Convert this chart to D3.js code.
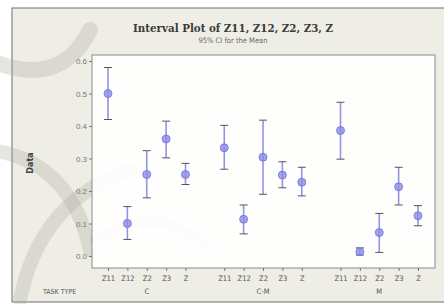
<!DOCTYPE html>
<html>
<head>
<meta charset="utf-8">
<script src="https://cdn.jsdelivr.net/npm/d3@7"></script>
<style>
  html, body { margin: 0; padding: 0; background: #fff; }
  svg { display: block; }
</style>
</head>
<body>
<svg id="chart" width="444" height="304"></svg>
<script>
// Interval plot – 95% CI for the mean, by task type

const GROUPS = ["C", "C-M", "M"];
const VARS = ["Z11", "Z12", "Z2", "Z3", "Z"];
const Y_TICKS = [0.0, 0.1, 0.2, 0.3, 0.4, 0.5, 0.6];

// one row per group, in VARS order
const MEANS = [
  [0.500, 0.100, 0.251, 0.360, 0.251],
  [0.333, 0.113, 0.304, 0.249, 0.227],
  [0.386, 0.013, 0.072, 0.213, 0.124]
];
const LOWER = [
  [0.420, 0.051, 0.179, 0.302, 0.220],
  [0.267, 0.068, 0.190, 0.210, 0.185],
  [0.298, 0.003, 0.011, 0.157, 0.093]
];
const UPPER = [
  [0.580, 0.152, 0.324, 0.415, 0.285],
  [0.402, 0.157, 0.418, 0.290, 0.273],
  [0.473, 0.025, 0.131, 0.273, 0.155]
];

const svg = d3.select("#chart");

// ---------------------------
// background + faint watermark
// ---------------------------
svg.append("rect").attr("x", 12).attr("y", 8).attr("width", 440).attr("height", 294)
  .attr("fill", "#efeee6").attr("stroke", "#6e6e6e").attr("stroke-width", 1);

const wm = svg.append("g").attr("fill", "none").attr("stroke", "#a8a8a0")
  .attr("stroke-opacity", 0.3).attr("stroke-linecap", "round");
wm.append("path").attr("d", "M-10,60 Q60,90 90,30").attr("stroke-width", 16);
wm.append("path").attr("d", "M20,300 Q40,200 130,170").attr("stroke-width", 14);
wm.append("path").attr("d", "M-10,150 Q70,160 90,250").attr("stroke-width", 14);
wm.append("path").attr("d", "M95,240 Q160,200 210,250").attr("stroke-width", 10);

const plot = { left: 92, top: 55, right: 435, bottom: 268 };

svg.append("rect")
  .attr("x", plot.left).attr("y", plot.top)
  .attr("width", plot.right - plot.left).attr("height", plot.bottom - plot.top)
  .attr("fill", "#fff").attr("fill-opacity", 0.92)
  .attr("stroke", "#8a8a8a").attr("stroke-width", 1);

// ---------------------------
// scales
// ---------------------------
const y = d3.scaleLinear().domain([0, 0.6]).range([256, 61]);

// 15 positions plus one empty slot between groups
const slots = [];
GROUPS.forEach((g, gi) => {
  if (gi > 0) slots.push("gap" + gi);
  VARS.forEach(v => slots.push(g + "|" + v));
});
const x = d3.scalePoint().domain(slots).range([108, 418]);

// ---------------------------
// axes
// ---------------------------
const yAxis = svg.append("g")
  .attr("transform", `translate(${plot.left},0)`)
  .call(d3.axisLeft(y).tickValues(Y_TICKS).tickFormat(d3.format(".1f")).tickSize(3).tickPadding(2));
yAxis.select(".domain").remove();
yAxis.selectAll("line").attr("stroke", "#777");
yAxis.selectAll("text").attr("fill", "#777").style("font", "8px 'Liberation Sans', Arial, sans-serif");

const xKeys = slots.filter(s => !s.startsWith("gap"));
const xAxis = svg.append("g")
  .attr("transform", `translate(0,${plot.bottom})`)
  .call(d3.axisBottom(x).tickValues(xKeys).tickFormat(d => d.split("|")[1]).tickSize(3).tickPadding(5));
xAxis.select(".domain").remove();
xAxis.selectAll("line").attr("stroke", "#777");
xAxis.selectAll("text").attr("fill", "#555").style("font", "7.5px 'DejaVu Sans Condensed', 'DejaVu Sans', sans-serif");

// group labels
svg.append("g").selectAll("text")
  .data(GROUPS)
  .join("text")
  .attr("x", g => x(g + "|Z2"))
  .attr("y", 294)
  .attr("text-anchor", "middle")
  .attr("fill", "#555")
  .style("font", "7.5px 'DejaVu Sans Condensed', 'DejaVu Sans', sans-serif")
  .text(g => g);

svg.append("text")
  .attr("x", 43).attr("y", 294)
  .attr("fill", "#555")
  .style("font", "7px 'DejaVu Sans Condensed', 'DejaVu Sans', sans-serif")
  .text("TASK TYPE");

svg.append("text")
  .attr("transform", "translate(33,163) rotate(-90)")
  .attr("text-anchor", "middle")
  .attr("fill", "#444")
  .style("font", "bold 8px 'DejaVu Sans', sans-serif")
  .text("Data");

// titles
svg.append("text")
  .attr("x", 233).attr("y", 32)
  .attr("text-anchor", "middle")
  .attr("fill", "#3a3a3a")
  .attr("textLength", 200)
  .attr("lengthAdjust", "spacingAndGlyphs")
  .style("font", "bold 11px 'DejaVu Serif', serif")
  .text("Interval Plot of Z11, Z12, Z2, Z3, Z");

svg.append("text")
  .attr("x", 233).attr("y", 43)
  .attr("text-anchor", "middle")
  .attr("fill", "#666")
  .style("font", "7.5px 'DejaVu Sans Condensed', 'DejaVu Sans', sans-serif")
  .text("95% CI for the Mean");

// ---------------------------
// intervals
// ---------------------------
const rows = [];
GROUPS.forEach((g, gi) => {
  VARS.forEach((v, vi) => {
    rows.push({ key: g + "|" + v, mean: MEANS[gi][vi], lo: LOWER[gi][vi], hi: UPPER[gi][vi] });
  });
});

const marks = svg.append("g").selectAll("g")
  .data(rows)
  .join("g")
  .attr("transform", d => `translate(${x(d.key)},0)`);

marks.append("line")
  .attr("y1", d => y(d.lo)).attr("y2", d => y(d.hi))
  .attr("stroke", "#9494e4").attr("stroke-width", 1.6);

marks.selectAll(".cap")
  .data(d => [d.lo, d.hi])
  .join("line")
  .attr("class", "cap")
  .attr("x1", -4).attr("x2", 4)
  .attr("y1", v => y(v)).attr("y2", v => y(v))
  .attr("stroke", "#555").attr("stroke-width", 1);

marks.append("circle")
  .attr("cy", d => y(d.mean))
  .attr("r", 4)
  .attr("fill", "#8c8ce8").attr("fill-opacity", 0.8)
  .attr("stroke", "#7070d4").attr("stroke-width", 0.8);
</script>
</body>
</html>
